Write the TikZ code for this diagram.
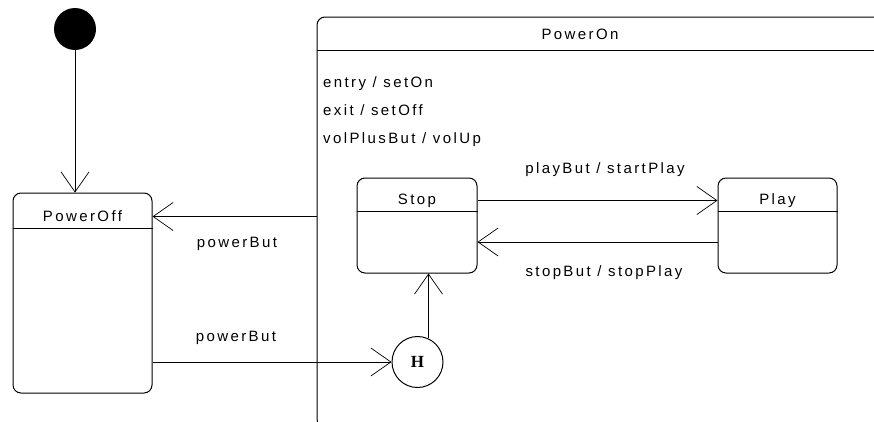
\documentclass[tikz,border=0pt]{standalone}
\usepackage{fontspec}
\setmainfont{Liberation Sans}[LetterSpace=16]
\newfontfamily\histfont{Liberation Serif}
\usepackage{tikz}
\usetikzlibrary{arrows.meta}
\tikzstyle{state}=[draw, rectangle, rounded corners=8pt, line width=1pt, inner sep=0pt]
\tikzstyle{txt}=[inner sep=0pt, font=\fontsize{15}{17}\selectfont]
\tikzstyle{arr}=[-{Straight Barb[length=20pt,width=28pt,line width=0.7pt]}, line width=1pt]

\begin{document}
\begin{tikzpicture}[x=1pt, y=-1pt]
        \useasboundingbox (0,0) rectangle (874,421);
        \clip (0,0) rectangle (874,421);
        \node[circle, fill, minimum size=42pt, inner sep=0pt] (Init) at (75,29) {};
        \node[state, minimum width=139pt, minimum height=200pt] (PowerOff) at (82.5,293) {};
        \draw[line width=1pt] ([yshift=-36pt]PowerOff.north west) -- ([yshift=-36pt]PowerOff.north east);
        \node[txt] (PowerOffName) at ([yshift=-24pt]PowerOff.north) {PowerOff};
        \node[state, minimum width=600pt, minimum height=410pt] (PowerOn) at (617,222) {};
        \draw[line width=1pt] ([yshift=-34pt]PowerOn.north west) -- ([yshift=-34pt]PowerOn.north east);
        \node[txt] (PowerOnName) at (580,34) {PowerOn};
        \node[txt, anchor=base west] (EntryAct) at (323,87) {entry / setOn};
        \node[txt, anchor=base west] (ExitAct) at (323,115) {exit / setOff};
        \node[txt, anchor=base west] (VolAct) at (323,143) {volPlusBut / volUp};
        \node[state, minimum width=120pt, minimum height=95pt] (Stop) at (417,225.5) {};
        \draw[line width=1pt] ([yshift=-34pt]Stop.north west) -- ([yshift=-34pt]Stop.north east);
        \node[txt] (StopName) at ([yshift=-23pt]Stop.north) {Stop};
        \node[state, minimum width=119pt, minimum height=95pt] (Play) at (777.5,225.5) {};
        \draw[line width=1pt] ([yshift=-34pt]Play.north west) -- ([yshift=-34pt]Play.north east);
        \node[txt] (PlayName) at ([yshift=-23pt]Play.north) {Play};
        \node[draw, circle, minimum size=51pt, inner sep=0pt, line width=1pt, font=\histfont\bfseries\fontsize{17}{17}\selectfont] (Hist) at (417.5,362) {H};
        \draw[arr] (Init) -- (Init |- PowerOff.north);
        \draw[arr] (PowerOn.west |- PowerOffName) -- (PowerOffName -| PowerOff.east);
        \draw[arr] (PowerOff.east |- Hist) -- (Hist.west);
        \draw[arr] (Hist.65) -- (Hist.65 |- Stop.south);
        \draw[arr] (StopName -| Stop.east) -- (StopName -| Play.west);
        \draw[arr] ([yshift=-16.5pt]Play.west) -- ([yshift=-16.5pt]Stop.east);
        \node[txt] (OffTrig) at (237,244) {powerBut};
        \node[txt] (OnTrig) at (236,338) {powerBut};
        \node[txt] (PlayTrig) at (605,170) {playBut / startPlay};
        \node[txt] (StopTrig) at (604,273) {stopBut / stopPlay};
    \end{tikzpicture}
\end{document}
